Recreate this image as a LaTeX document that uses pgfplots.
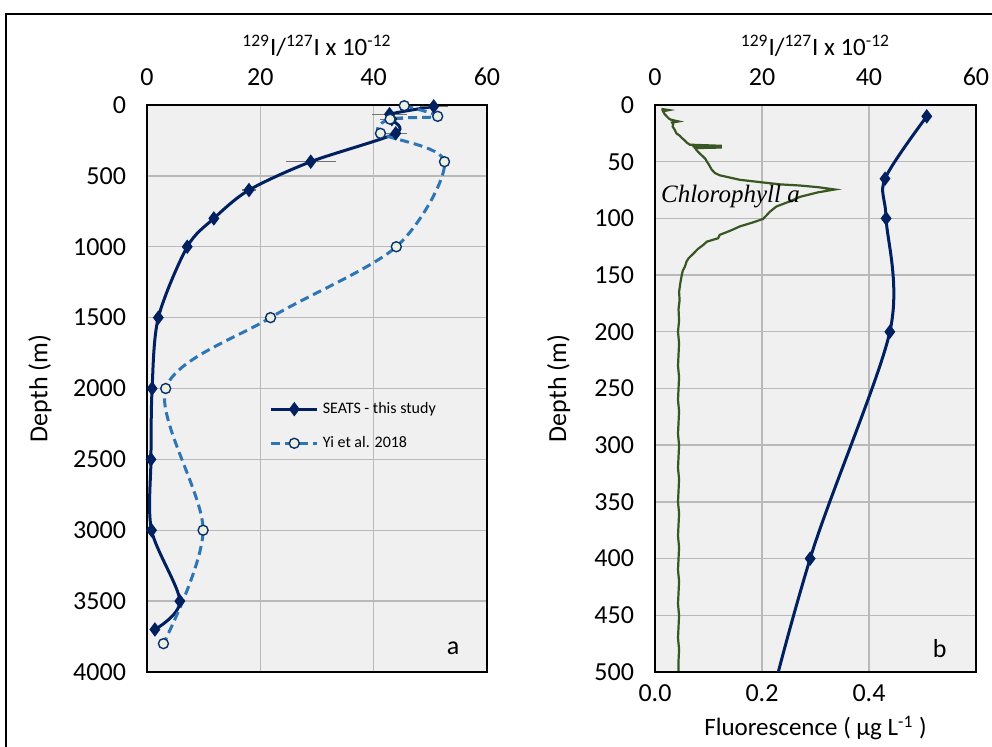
\documentclass[border=0pt]{standalone}
\usepackage{pgfplots}
\pgfplotsset{compat=1.18}
\usepackage{fontspec}
\setmainfont{Carlito}
\newfontfamily\timesfont{Liberation Serif}

\definecolor{seats}{RGB}{0,32,96}
\definecolor{yiblue}{RGB}{46,117,182}
\definecolor{yifill}{RGB}{235,241,222}
\definecolor{chlgreen}{RGB}{56,87,35}
\definecolor{plotbg}{RGB}{240,240,240}
\definecolor{gridgray}{RGB}{185,185,185}

\pgfplotsset{
  panel/.style={
    scale only axis, anchor=north west,
    height=283.5pt,
    y dir=reverse,
    axis background/.style={fill=plotbg},
    axis line style={black, line width=0.9pt},
    major grid style={gridgray, line width=0.7pt},
    major tick length=0pt,
    tick label style={font=\fontsize{13}{15}\selectfont},
    yticklabel style={xshift=-7pt},
    label style={font=\fontsize{12.5}{15}\selectfont},
    /pgf/number format/assume math mode=true,
    /pgf/number format/1000 sep={},
    scaled ticks=false,
  },
  toplabels/.style={
    xticklabel pos=right,
    xticklabel style={yshift=6pt},
    xlabel shift=-1pt,
  },
}

\begin{document}
\begin{tikzpicture}
\useasboundingbox (0pt,0pt) rectangle (496pt,-373.5pt);
\draw[black, line width=1pt] (3pt,-373.5pt) -- (3pt,-7pt) -- (496pt,-7pt);

% panel a
\begin{axis}[panel, toplabels, at={(73.5pt,-52.5pt)}, width=170pt,
  xmin=0, xmax=60, xtick={0,20,40,60},
  ymin=0, ymax=4000, ytick={0,500,...,4000},
  grid=major,
  xlabel={\textsuperscript{129}I/\textsuperscript{127}I x 10\textsuperscript{-12}},
  ylabel={Depth (m)},
  ylabel style={at={(axis description cs:-0.315,0.5)}, anchor=center,
    font=\fontsize{13}{15}\selectfont},
  legend style={draw=none, fill=none, font=\fontsize{8}{10}\selectfont,
    at={(axis cs:21.6,2065)}, anchor=north west, inner sep=0pt,
    row sep=6pt},
  legend cell align=left,
  legend image code/.code={
    \draw[#1, mark=none] plot coordinates {(0pt,0pt) (23pt,0pt)};
    \draw[#1, only marks] plot coordinates {(11.5pt,0pt)};
  },
]
\addplot[seats, line width=1.5pt, smooth, tension=0.5,
  mark=diamond*, mark size=2.4pt, mark options={solid},
  error bars/.cd, x dir=both, x explicit, error mark=none,
  error bar style={black!55, line width=0.6pt}]
coordinates {
  (50.6,10) +- (2.5,0)
  (42.8,65) +- (3.1,0)
  (43.2,100) +- (2.0,0)
  (43.9,200) +- (2.0,0)
  (28.9,400) +- (4.4,0)
  (18.0,600) +- (1.2,0)
  (11.8,800) +- (0.6,0)
  (7.1,1000) +- (0.4,0)
  (2.0,1500) +- (0.2,0)
  (0.9,2000) +- (0.1,0)
  (0.7,2500) +- (0.1,0)
  (0.8,3000) +- (0.1,0)
  (5.8,3500) +- (0.3,0)
  (1.4,3700) +- (0.1,0)
};
\addlegendentry{SEATS - this study}
\addplot[yiblue, line width=1.5pt, dash pattern=on 4.5pt off 2.5pt,
  smooth, tension=0.5,
  mark=*, mark size=2.5pt,
  mark options={solid, fill=yifill, draw=seats!80!yiblue, line width=0.7pt}]
coordinates {
  (45.4,5)
  (51.3,80)
  (42.9,100)
  (41.2,200)
  (52.5,400)
  (44.0,1000)
  (21.8,1500)
  (3.3,2000)
  (9.9,3000)
  (2.9,3800)
};
\addlegendentry{Yi et al. 2018}
\node[font=\fontsize{13}{15}\selectfont] at (axis cs:54,3830) {a};
\end{axis}

% panel b, fluorescence axis
\begin{axis}[panel, at={(327.5pt,-52.5pt)}, width=160.5pt,
  xmin=0, xmax=0.6, xtick={0,0.2,0.4}, xticklabels={0.0,0.2,0.4},
  xticklabel style={yshift=-3pt},
  ymin=0, ymax=500, ytick={0,50,...,500},
  grid=major,
  xlabel={Fluorescence ( μg L\textsuperscript{-1} )},
  ylabel={Depth (m)},
  ylabel style={at={(axis description cs:-0.30,0.5)}, anchor=center,
    font=\fontsize{13}{15}\selectfont},
]
\addplot[chlgreen, line width=1.1pt] coordinates {
  (0.012,3.5) (0.026,4.5) (0.015,5.5) (0.018,8) (0.022,10) (0.026,12)
  (0.030,13) (0.044,14.5) (0.032,15.5) (0.034,17) (0.033,19) (0.037,22)
  (0.040,25) (0.046,27) (0.050,29) (0.055,31) (0.059,33) (0.065,35)
  (0.125,36) (0.070,36.5) (0.125,37.5) (0.075,38) (0.078,40) (0.084,43)
  (0.090,45.5) (0.095,48) (0.097,50) (0.100,52) (0.103,54.5) (0.106,57)
  (0.112,60) (0.121,62) (0.140,64) (0.159,66) (0.196,68) (0.234,70)
  (0.271,71) (0.305,72.5) (0.336,74.5) (0.305,77) (0.271,81) (0.252,85)
  (0.227,89.5) (0.215,94) (0.209,97) (0.202,100.5) (0.180,104) (0.159,107)
  (0.140,111) (0.121,114.5) (0.118,117.5) (0.097,120.5) (0.090,123.5)
  (0.080,127) (0.072,131) (0.063,135) (0.059,138) (0.056,142.5) (0.052,146)
  (0.050,150) (0.047,158) (0.045,165) (0.046,172) (0.044,180) (0.045,190)
  (0.043,200) (0.045,210) (0.044,220) (0.043,230) (0.045,240) (0.044,250)
  (0.043,260) (0.045,270) (0.044,280) (0.043,290) (0.045,300) (0.044,310)
  (0.043,320) (0.045,330) (0.044,340) (0.043,350) (0.045,360) (0.044,370)
  (0.043,380) (0.045,390) (0.044,400) (0.043,410) (0.045,420) (0.044,430)
  (0.043,440) (0.045,450) (0.044,460) (0.043,470) (0.045,480) (0.044,490)
  (0.044,500)
};
\node[font=\timesfont\itshape\fontsize{12.5}{15}\selectfont] at (axis cs:0.141,81) {Chlorophyll a};
\node[font=\fontsize{13}{15}\selectfont] at (axis cs:0.532,479) {b};
\end{axis}

% panel b, isotope ratio axis on top
\begin{axis}[panel, toplabels, at={(327.5pt,-52.5pt)}, width=160.5pt,
  axis background/.style={},
  xmin=0, xmax=60, xtick={0,20,40,60},
  ymin=0, ymax=500, ytick=\empty,
  xlabel={\textsuperscript{129}I/\textsuperscript{127}I x 10\textsuperscript{-12}},
]
\addplot[seats, line width=1.5pt, smooth, tension=0.5,
  mark=diamond*, mark size=2.4pt, mark options={solid}]
coordinates {
  (50.8,10) (43.0,65) (43.2,100) (43.9,200) (29.0,400) (18.0,600) (11.8,800)
};
\end{axis}
\end{tikzpicture}
\end{document}
